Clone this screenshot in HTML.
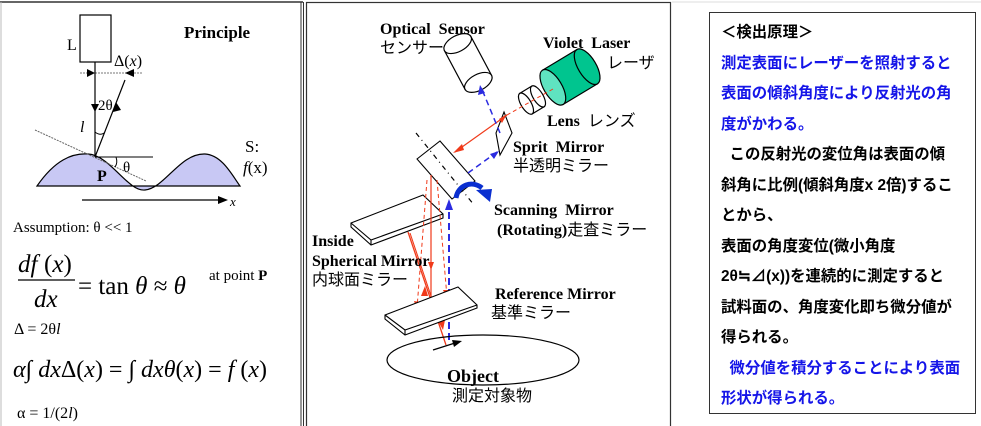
<!DOCTYPE html>
<html><head><meta charset="utf-8"><style>
html,body{margin:0;padding:0;background:#fff;}
body{width:981px;height:426px;overflow:hidden;position:relative;}
svg text{font-family:"Liberation Serif","Noto Serif CJK SC",serif;}
.jp{font-family:"Liberation Sans","Noto Sans CJK JP",sans-serif;}
#box{position:absolute;left:709px;top:12px;width:267px;height:402px;border:1px solid #333;box-sizing:border-box;padding:5px 0 0 11px;font-family:"Liberation Sans","Noto Sans CJK JP",sans-serif;font-weight:bold;font-size:15.4px;line-height:30.5px;color:#000;white-space:nowrap;}
.b{color:#1515e8;}
</style></head><body>
<svg width="981" height="426" viewBox="0 0 981 426" style="position:absolute;left:0;top:0">
<line x1="0" y1="2" x2="303" y2="2" stroke="#333" stroke-width="1.5"/>
<line x1="1" y1="2" x2="1" y2="426" stroke="#bbb" stroke-width="1"/>
<line x1="301" y1="2" x2="301" y2="426" stroke="#333" stroke-width="1"/>
<line x1="303.5" y1="2" x2="303.5" y2="426" stroke="#333" stroke-width="1"/>
<rect x="306.5" y="2.5" width="364" height="430" fill="none" stroke="#333" stroke-width="1.2"/>
<line x1="672" y1="2" x2="981" y2="2" stroke="#ddd" stroke-width="1"/>

<!-- LEFT diagram -->
<path d="M37,186 C55,160 72,153 88,154 C110,155 128,192 145,190 C165,188 180,153 205,154 C222,155 232,175 240,186 Z" fill="#c8c8f4" stroke="#000" stroke-width="1.2"/>
<rect x="80" y="15" width="31" height="47" fill="#fff" stroke="#000" stroke-width="1.2"/>
<text x="67" y="50" font-size="16">L</text>
<text x="114" y="66" font-size="16">Δ(<tspan font-style="italic">x</tspan>)</text>
<line x1="80" y1="73" x2="142" y2="73" stroke="#777" stroke-width="1" stroke-dasharray="2,1"/>
<polygon points="95,73 87,69 87,77" fill="#000"/>
<polygon points="125,73 134,69 134,77" fill="#000"/>
<line x1="95" y1="62" x2="95" y2="157" stroke="#000" stroke-width="1.2"/>
<polygon points="95,112 91,104 99,104" fill="#000"/>
<line x1="95" y1="157" x2="125" y2="80" stroke="#000" stroke-width="1.2"/>
<polygon points="116,102 113,112 121,110" fill="#000"/>
<text x="98" y="110" font-size="15">2θ</text>
<text x="80" y="132" font-size="16" font-style="italic">l</text>
<path d="M95,132 Q100,136 104,133" fill="none" stroke="#000" stroke-width="1"/>
<line x1="35" y1="130" x2="146" y2="181" stroke="#666" stroke-width="1" stroke-dasharray="2,1"/>
<line x1="95" y1="157" x2="153" y2="157" stroke="#000" stroke-width="1"/>
<path d="M116,157 Q118,163 115,167" fill="none" stroke="#000" stroke-width="1"/>
<text x="123" y="172" font-size="15">θ</text>
<text x="97" y="181" font-size="16" font-weight="bold">P</text>
<text x="245" y="152" font-size="17">S:</text>
<text x="243" y="173" font-size="17"><tspan font-style="italic">f</tspan>(x)</text>
<line x1="82" y1="200" x2="222" y2="200" stroke="#000" stroke-width="1.2"/>
<polygon points="228,200 218,196 218,204" fill="#000"/>
<text x="230" y="206" font-size="13" font-style="italic">x</text>
<text x="184" y="38" font-size="17" font-weight="bold">Principle</text>

<text x="13" y="232" font-size="15">Assumption: θ &lt;&lt; 1</text>
<text x="18" y="272" font-size="25" font-style="italic">df</text><text x="44" y="272" font-size="25">(<tspan font-style="italic">x</tspan>)</text>
<line x1="18" y1="280" x2="75" y2="280" stroke="#000" stroke-width="1.2"/>
<text x="34" y="307" font-size="25" font-style="italic">dx</text>
<text x="78" y="294" font-size="25">= tan <tspan font-style="italic">θ</tspan> ≈ <tspan font-style="italic">θ</tspan></text>
<text x="209" y="280" font-size="15">at point <tspan font-weight="bold">P</tspan></text>
<text x="14" y="334" font-size="16">Δ = 2θ<tspan font-style="italic">l</tspan></text>
<text x="13" y="377" font-size="24"><tspan font-style="italic">α</tspan>∫ <tspan font-style="italic">dx</tspan>Δ(<tspan font-style="italic">x</tspan>) = ∫ <tspan font-style="italic">dxθ</tspan>(<tspan font-style="italic">x</tspan>) = <tspan font-style="italic">f</tspan> (<tspan font-style="italic">x</tspan>)</text>
<text x="17" y="418" font-size="16">α = 1/(2<tspan font-style="italic">l</tspan>)</text>

<!-- MIDDLE diagram -->
<g transform="rotate(-28 468 63)">
<rect x="453" y="41" width="30" height="44" fill="#fff" stroke="#000" stroke-width="1.2"/>
<ellipse cx="468" cy="41" rx="15" ry="8" fill="#fff" stroke="#000" stroke-width="1.2"/>
<ellipse cx="468" cy="85" rx="15" ry="8" fill="#fff" stroke="#000" stroke-width="1.2"/>
</g>
<g transform="rotate(59 570 77)">
<rect x="550" y="57" width="40" height="40" fill="#00c58f" stroke="#000" stroke-width="1.2"/>
<ellipse cx="570" cy="57" rx="20" ry="9" fill="#00c58f" stroke="#000" stroke-width="1.2"/>
<ellipse cx="570" cy="97" rx="20" ry="9" fill="#5fe3c0" stroke="#000" stroke-width="1.2"/>
</g>
<g transform="rotate(59 532 100)">
<rect x="520" y="93" width="24" height="14" fill="#fff" stroke="#000" stroke-width="1.2"/>
<ellipse cx="532" cy="93" rx="12" ry="5" fill="#fff" stroke="#000" stroke-width="1.2"/>
<ellipse cx="532" cy="107" rx="12" ry="5" fill="#fff" stroke="#000" stroke-width="1.2"/>
</g>
<polygon points="504,112 512,133 500,155 496,133" fill="#fff" stroke="#000" stroke-width="1.1"/>
<polygon points="417,159 440,141 475,181 452,199" fill="#fff" stroke="#000" stroke-width="1.1"/>
<line x1="416" y1="133" x2="474" y2="205" stroke="#000" stroke-width="1.2" stroke-dasharray="5,4,1,4"/>
<path d="M456,198 C458,185 472,180 482,188" fill="none" stroke="#0a2fd0" stroke-width="5"/>
<polygon points="476,190 492,189 490,202" fill="#0a2fd0"/>
<line x1="553" y1="89" x2="507" y2="115" stroke="#f03a1a" stroke-width="1" stroke-dasharray="4,3"/>
<line x1="507" y1="115" x2="455" y2="152" stroke="#f03a1a" stroke-width="1.2"/>
<polygon points="453,153 462,144 464,150" fill="#f03a1a"/>
<polygon points="507,114 499,119 502,123" fill="#f03a1a"/>
<line x1="468" y1="173" x2="497" y2="152" stroke="#2b2be0" stroke-width="1.5" stroke-dasharray="6,4"/>
<polygon points="499,151 490,154 494,159" fill="#2b2be0"/>
<line x1="500" y1="133" x2="481" y2="87" stroke="#2b2be0" stroke-width="1.5" stroke-dasharray="6,4"/>
<polygon points="480,85 478,95 485,93" fill="#2b2be0"/>
<line x1="449" y1="340" x2="449" y2="205" stroke="#2b2be0" stroke-width="2" stroke-dasharray="7,4"/>
<polygon points="449,199 445,210 453,210" fill="#2b2be0"/>
<polygon points="351,223 423,195 443,214 443,218 371,245 351,227" fill="#fff" stroke="#000" stroke-width="1.1"/>
<polyline points="351,223 371,240 443,214" fill="none" stroke="#000" stroke-width="1.1"/>
<line x1="371" y1="240" x2="371" y2="245" stroke="#000" stroke-width="1.1"/>
<line x1="431" y1="175" x2="431" y2="317" stroke="#f03a1a" stroke-width="1.2"/>
<polygon points="431,270 428,262 434,262" fill="#f03a1a"/>
<line x1="427" y1="180" x2="417" y2="308" stroke="#f03a1a" stroke-width="1" stroke-dasharray="4,3"/>
<polygon points="417,310 414,301 420,302" fill="#f03a1a"/>
<line x1="437" y1="180" x2="447" y2="297" stroke="#f03a1a" stroke-width="1" stroke-dasharray="4,3"/>
<polygon points="447,299 443,290 450,290" fill="#f03a1a"/>
<line x1="408" y1="232" x2="446" y2="345" stroke="#f03a1a" stroke-width="1.3"/>
<line x1="410" y1="233" x2="438" y2="317" stroke="#f03a1a" stroke-width="1.1"/>
<polygon points="425,286 421,296 428,296" fill="#f03a1a"/>
<polygon points="438,318 433,309 440,308" fill="#f03a1a"/>
<polygon points="443,330 438,321 445,320" fill="#f03a1a"/>
<polygon points="385,315 458,287 477,305 477,308 405,335 385,319" fill="#fff" stroke="#000" stroke-width="1.1"/>
<polyline points="385,315 405,330 477,305" fill="none" stroke="#000" stroke-width="1.1"/>
<line x1="405" y1="330" x2="405" y2="335" stroke="#000" stroke-width="1.1"/>
<ellipse cx="483" cy="360" rx="96" ry="25" fill="none" stroke="#000" stroke-width="1.2"/>
<line x1="433" y1="350" x2="455" y2="343" stroke="#000" stroke-width="1.2"/>
<polygon points="462,341 452,340 454,347" fill="#000"/>
<text x="380" y="34" font-size="16" font-weight="bold" word-spacing="4">Optical Sensor</text>
<text x="380" y="53" font-size="16" class="jp">センサー</text>
<text x="543" y="48" font-size="16" font-weight="bold" word-spacing="4">Violet Laser</text>
<text x="607" y="68" font-size="16" class="jp">レーザ</text>
<text x="547" y="126" font-size="16" font-weight="bold">Lens  <tspan class="jp" font-weight="normal" dx="4">レンズ</tspan></text>
<text x="513" y="152" font-size="16" font-weight="bold" word-spacing="4">Sprit Mirror</text>
<text x="513" y="171" font-size="16" class="jp">半透明ミラー</text>
<text x="494" y="215" font-size="16" font-weight="bold" word-spacing="4">Scanning Mirror</text>
<text x="497" y="235" font-size="16" font-weight="bold">(Rotating)<tspan class="jp" font-weight="normal">走査ミラー</tspan></text>
<text x="312" y="246" font-size="16" font-weight="bold">Inside</text>
<text x="312" y="266" font-size="16" font-weight="bold">Spherical Mirror</text>
<text x="312" y="285" font-size="16" class="jp">内球面ミラー</text>
<text x="495" y="299" font-size="16" font-weight="bold">Reference Mirror</text>
<text x="491" y="318" font-size="16" class="jp">基準ミラー</text>
<text x="447" y="382" font-size="18" font-weight="bold">Object</text>
<text x="452" y="401" font-size="16" class="jp">測定対象物</text>
</svg>
<div id="box">＜検出原理＞<br><span class="b">測定表面にレーザーを照射すると<br>表面の傾斜角度により反射光の角<br>度がかわる。</span><br>&nbsp;&nbsp;この反射光の変位角は表面の傾<br>斜角に比例(傾斜角度x 2倍)するこ<br>とから、<br>表面の角度変位(微小角度<br>2θ≒⊿(x))を連続的に測定すると<br>試料面の、角度変化即ち微分値が<br>得られる。<br><span class="b">&nbsp;&nbsp;微分値を積分することにより表面<br>形状が得られる。</span></div>
</body></html>
